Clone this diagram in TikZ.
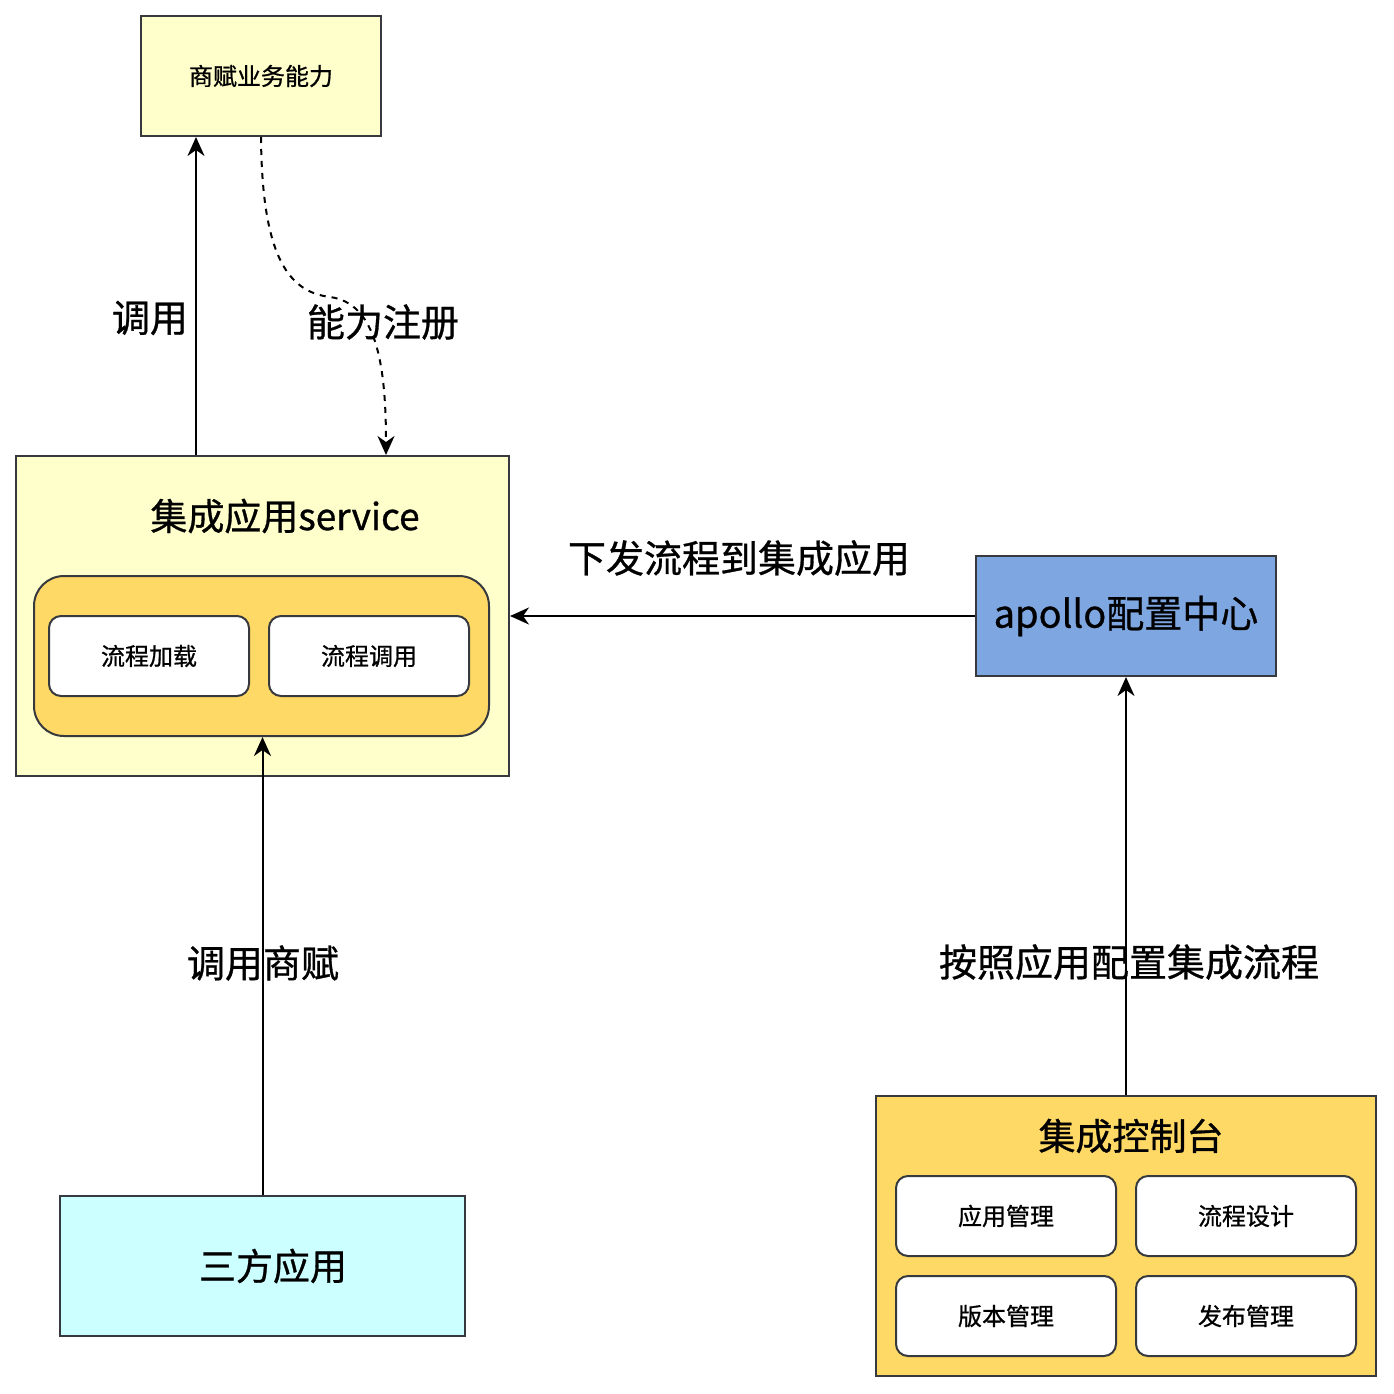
\documentclass[tikz,border=0pt]{standalone}
\usepackage{fontspec}
\setmainfont{Noto Sans CJK SC}[RawFeature={embolden=0.8}]
\usetikzlibrary{arrows.meta}
\definecolor{paleyellow}{HTML}{FFFFCC}
\definecolor{goldfill}{HTML}{FFD966}
\definecolor{bluefill}{HTML}{7EA6E0}
\definecolor{cyanfill}{HTML}{CCFFFF}
\definecolor{edgegray}{HTML}{36393D}
\begin{document}
\begin{tikzpicture}[x=1pt, y=-1pt,
		box/.style={draw=edgegray, line width=2pt, inner sep=0pt},
		card/.style={box, fill=white, rounded corners=12pt, minimum width=200pt, minimum height=80pt, font=\fontsize{24}{28}\selectfont},
		panel/.style={box, fill=white, rounded corners=12pt, minimum width=220pt, minimum height=80pt, font=\fontsize{24}{28}\selectfont},
		tag/.style={font=\fontsize{38}{44}\selectfont},
		title/.style={font=\fontsize{37}{44}\selectfont},
		arr/.style={line width=2pt, -{Stealth[length=19pt, width=17pt, inset=6pt]}}]
			\useasboundingbox (0, 0) rectangle (1394, 1394);
			
			\node[box, fill=paleyellow, minimum width=240pt, minimum height=120pt, font=\fontsize{24}{28}\selectfont] (biz) at (261, 76) {商赋业务能力};
			
			\node[box, fill=paleyellow, minimum width=493pt, minimum height=320pt] (svc) at (262.5, 616) {};
			\node[title] (svctitle) at (285, 516) {集成应用service};
			\node[box, fill=goldfill, rounded corners=30pt, minimum width=455pt, minimum height=160pt] (engine) at (261.5, 656) {};
			\node[card] (load) at (149, 656) {流程加载};
			\node[card] (invoke) at (369, 656) {流程调用};
			
			\node[box, fill=bluefill, minimum width=300pt, minimum height=120pt, font=\fontsize{38}{44}\selectfont] (apollo) at (1126, 616) {apollo配置中心};
			
			\node[box, fill=cyanfill, minimum width=405pt, minimum height=140pt] (third) at (262.5, 1266) {};
			\node[title] (thirdtitle) at (273, 1266) {三方应用};
			
			\node[box, fill=goldfill, minimum width=500pt, minimum height=280pt] (console) at (1126, 1236) {};
			\node[title] (consoletitle) at (1131, 1136) {集成控制台};
			\node[panel] (appm) at (1006, 1216) {应用管理};
			\node[panel] (design) at (1246, 1216) {流程设计};
			\node[panel] (version) at (1006, 1316) {版本管理};
			\node[panel] (publish) at (1246, 1316) {发布管理};
			
			\coordinate (bend) at (330, 297);
			\draw[arr] (svc.north -| 196, 0) -- (biz.south -| 196, 0);
			\draw[arr, dashed, dash pattern=on 6pt off 6pt] (biz.south) .. controls (262, 260) and (290, 292) .. (bend) .. controls (375, 303) and (386, 360) .. (svc.north -| 386, 0);
			\draw[arr] (apollo.west) -- (svc.east);
			\draw[arr] (third.north) -- (third.north |- engine.south);
			\draw[arr] (console.north) -- (apollo.south);
			
			\node[tag] (callcap) at (150, 318) {调用};
			\node[tag] (register) at (383, 322) {能力注册};
			\node[tag] (dispatch) at (739, 558) {下发流程到集成应用};
			\node[tag] (callthird) at (263, 963) {调用商赋};
			\node[tag] (integrate) at (1129, 962) {按照应用配置集成流程};
		\end{tikzpicture}
\end{document}
